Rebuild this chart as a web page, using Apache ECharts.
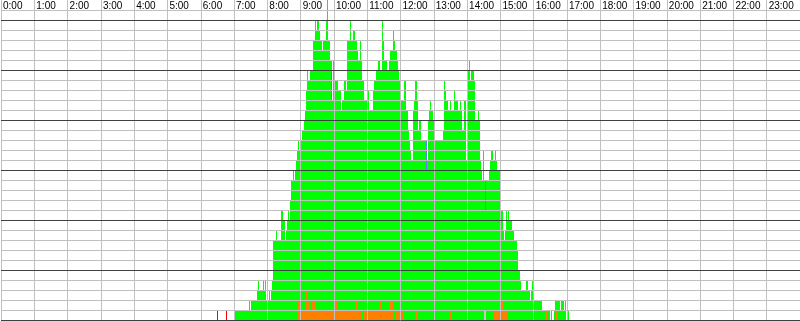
<!DOCTYPE html>
<html><head><meta charset="utf-8">
<script src="https://cdn.jsdelivr.net/npm/echarts@6/dist/echarts.min.js"></script>
<style>html,body{margin:0;padding:0;background:#fff}#c{width:800px;height:321px}</style>
</head><body><div id="c"></div>
<script>
// hour tick labels
const hourLabels = ['0:00','1:00','2:00','3:00','4:00','5:00','6:00','7:00','8:00','9:00','10:00','11:00',
  '12:00','13:00','14:00','15:00','16:00','17:00','18:00','19:00','20:00','21:00','22:00','23:00'];

// step profiles: [minute of day where the level starts, level]
const greenSteps = [[420,1],[446.4,2],[448.2,1],[450,2],[460.8,3],[462.6,4],[464.4,3],[471.6,4],[473.4,3],[475.2,4],[477,2],
 [483.7,3],[485.5,2],[487.3,3],[487.8,4],[489.6,8],[495,9],[496.8,8],[504,11],[508.9,10],[511.2,8],[513.5,9],[514.8,10],
 [517.1,11],[518.9,10],[520.2,12],[522,14],[525.6,15],[527.4,14],[529.2,15],[531,16],[532.8,17],[534.6,18],[536.4,17],
 [538.2,18],[543.1,19],[545.4,20],[547.2,21],[549,23],[550.8,25],[552.6,24],[556.7,25],[561.6,28],[565.2,30],[567,29],
 [568.8,28],[570.1,30],[572.4,29],[574.7,28],[577.8,27],[580.1,28],[585.5,30],[586.8,32],[588.6,28],[592.2,26],[595.8,22],
 [598.9,26],[600.7,24],[607.1,23],[612,21],[615.1,22],[617.4,24],[621,23],[622.8,28],[628.2,30],[630,28],[634.1,29],
 [637.2,28],[640.8,27],[643.1,26],[646.2,28],[649.3,26],[651.1,24],[653.9,22],[660.1,21],[660.6,23],[662.4,21],[670.9,23],
 [671.9,24],[676.3,25],[679.9,26],[682.7,25],[685.8,30],[687.6,28],[689.9,26],[694.8,25],[698.9,26],[700.2,27],[705.6,29],
 [707.9,28],[709.2,27],[712.8,26],[714.6,25],[717.3,24],[720,20],[721.8,22],[725.9,21],[727.2,24],[730.3,21],[733.9,19],
 [736.2,18],[738,17],[739.8,16],[742.9,21],[745.2,22],[747,24],[750.1,22],[751.9,19],[754.2,20],[757.8,18],[768.1,16],
 [769.9,20],[772.2,21],[774,22],[775.8,21],[778.1,20],[779.9,16],[783,18],[796.9,19],[797.9,21],[799.2,24],[801,23],
 [802.3,22],[805.1,21],[808.7,20],[810,22],[811.8,21],[815.9,19],[817.2,23],[819,22],[823.1,21],[828,22],[829.8,21],
 [831.1,19],[833.9,18],[835.2,22],[838.3,16],[840.1,26],[841.9,25],[843.7,26],[846,24],[847.8,25],[851.9,24],[855,20],
 [859.1,21],[860.9,20],[862.2,19],[864,16],[865.3,15],[867.1,14],[868.9,17],[871.2,14],[878.9,15],[882,16],[883.3,17],
 [886.9,16],[890.5,17],[892.3,16],[894.1,15],[898.7,13],[900,11],[904.9,9],[905.9,8],[909,9],[910.8,11],[912.6,10],
 [914.4,11],[916.2,10],[921.1,9],[923.9,8],[930.1,7],[931.9,5],[936,4],[937.8,3],[946.8,4],[949.9,3],[954,2],[955.8,3],
 [957.1,4],[959.9,2],[975.1,1],[989.1,0],[990.9,1],[993.6,0],[996.3,1],[999,2],[1008,1],[1009.8,2],[1013.9,1],[1015.7,2],
 [1018.3,0],[1020.1,1],[1024.2,0]];

const orangeSteps = [[446.4,1],[448.2,0],[535.1,2],[536.9,1],[537.7,0],[541.8,1],[543.1,0],[544.9,1],[547.2,0],[549,2],
 [550.3,3],[552.1,2],[556.7,1],[561.1,2],[567,1],[599.4,2],[606.1,1],[616.9,2],[618.7,1],[639.5,2],[641.3,1],[648,0],
 [651.6,1],[662.4,2],[664.7,1],[682.7,2],[684.5,1],[698.9,2],[706.9,1],[707.9,0],[709.2,1],[714.1,0],[715.1,1],[720,0],
 [723.6,1],[725.9,0],[747.5,1],[751.1,0],[786.1,1],[787.9,0],[808.7,1],[810,0],[889.2,1],[901.3,2],[907.2,1],[913.1,0],
 [981,1],[984.1,0],[999.5,1],[1003.1,0]];

const redSteps = [[388.8,1],[390.6,0],[405,1],[406.8,0]];
const graySteps = [[869.9,1],[874.8,0]];
// [start minute, end minute, from level, to level]
const blueMarks = [[594,595.8,22,25],[766.8,768.6,15,18],[873,874.8,11,14]];

function toRuns(steps){
  const out = [];
  for (let i = 0; i < steps.length - 1; i++) {
    if (steps[i][1] > 0) out.push([steps[i][0], steps[i+1][0], 0, steps[i][1]]);
  }
  return out;
}

function rectSeries(name, data, color, z){
  return {
    type: 'custom', name: name, z: z, data: data, silent: true,
    encode: {x: [0, 1], y: [2, 3]},
    renderItem: function(params, api){
      const a = api.coord([api.value(0), api.value(3)]);
      const b = api.coord([api.value(1), api.value(2)]);
      const x0 = Math.round(a[0]), x1 = Math.round(b[0]);
      const y0 = Math.round(a[1]), y1 = Math.round(b[1]);
      return {type: 'rect', shape: {x: x0, y: y0, width: Math.max(1, x1 - x0), height: y1 - y0},
              style: {fill: color}};
    }
  };
}

const chart = echarts.init(document.getElementById('c'), null, {renderer: 'canvas'});
chart.setOption({
  animation: false,
  backgroundColor: '#ffffff',
  grid: {left: 0, right: 0, top: 0, bottom: 1, containLabel: false},
  xAxis: {
    type: 'value', min: 0, max: 1440, interval: 60, position: 'top', z: 5,
    axisLine: {show: false}, axisTick: {show: false},
    axisLabel: {
      inside: true, align: 'left', verticalAlign: 'top', margin: 1, padding: [0, 0, 0, 2],
      fontSize: 10, color: '#000',
      fontFamily: "'Liberation Sans Narrow','Arial Narrow','Liberation Sans',Arial,sans-serif",
      showMaxLabel: false,
      formatter: function(v){ const i = Math.round(v / 60); return hourLabels[i] !== undefined ? hourLabels[i] : ''; }
    },
    splitLine: {show: true, lineStyle: {color: '#c0c0c0', width: 1}}
  },
  yAxis: {
    type: 'value', min: 0, max: 32, interval: 1, z: 6,
    axisLine: {show: false}, axisTick: {show: false}, axisLabel: {show: false},
    splitLine: {show: true, showMaxLine: false,
      lineStyle: {width: 1, color: ['#404040','#c0c0c0','#c0c0c0','#c0c0c0','#c0c0c0']}}
  },
  series: [
    rectSeries('total', toRuns(greenSteps), '#00ff00', 1),
    rectSeries('orange', toRuns(orangeSteps), '#ff8000', 2),
    rectSeries('red', toRuns(redSteps), '#ff0000', 2),
    rectSeries('gray', toRuns(graySteps), '#c8c8c8', 2),
    rectSeries('blue', blueMarks, '#7070ff', 3)
  ]
});
</script>
</body></html>
